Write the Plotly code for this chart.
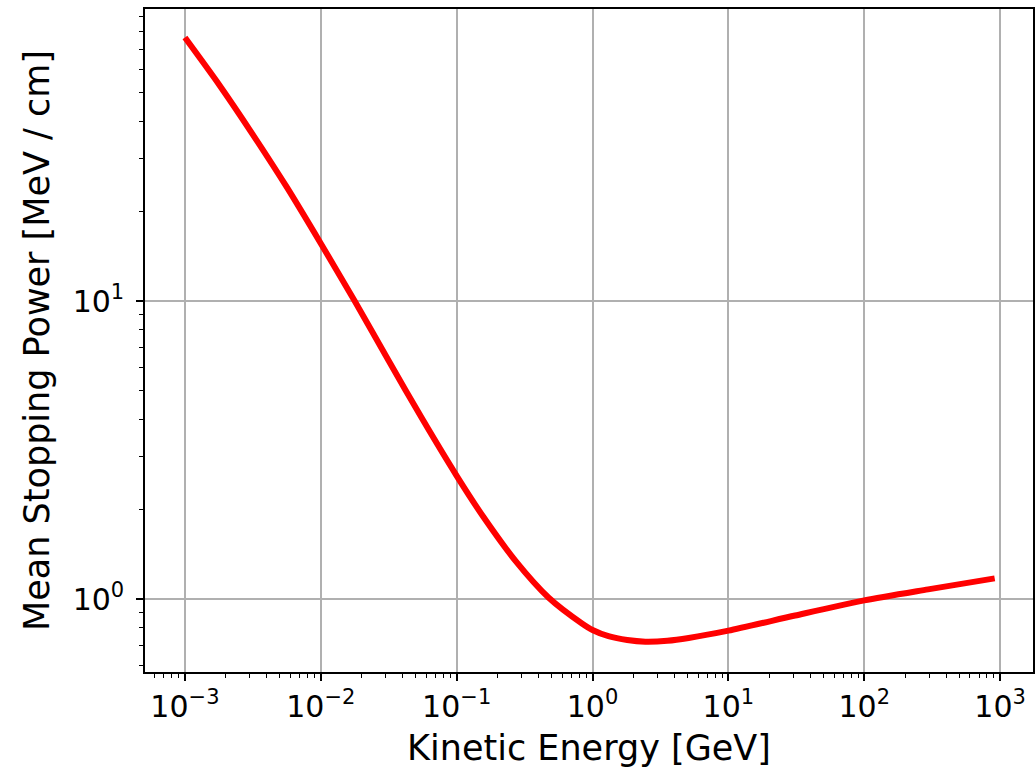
import plotly.graph_objects as go

# Data
kinetic_energy_gev = [0.001, 0.00178, 0.00316, 0.00562, 0.01, 0.0178, 0.0316, 0.0562,
                      0.1, 0.158, 0.272, 0.476, 0.836, 1.0, 1.31, 1.8, 2.45, 3.55, 5.1,
                      10.0, 31.0, 100.0, 295.0, 912.0]
stopping_power = [76.6, 53.3, 36.2, 24.1, 15.6, 9.98, 6.30, 4.00,
                  2.59, 1.88, 1.34, 1.01, 0.828, 0.787, 0.750, 0.728, 0.719, 0.724, 0.740,
                  0.783, 0.880, 0.989, 1.077, 1.173]

x_tick_vals = [1e-3, 1e-2, 1e-1, 1e0, 1e1, 1e2, 1e3]
x_tick_text = ["10<sup>−3</sup>", "10<sup>−2</sup>", "10<sup>−1</sup>", "10<sup>0</sup>",
               "10<sup>1</sup>", "10<sup>2</sup>", "10<sup>3</sup>"]
y_tick_vals = [1e0, 1e1]
y_tick_text = ["10<sup>0</sup>", "10<sup>1</sup>"]

def minor_ticks(lo, hi):
    out = []
    for k in range(lo, hi + 1):
        for m in range(2, 10):
            out.append(m * 10.0 ** k)
    return out

FONT = "DejaVu Sans"

fig = go.Figure()
fig.add_trace(go.Scatter(
    x=kinetic_energy_gev, y=stopping_power, mode="lines",
    line=dict(color="#ff0000", width=6, shape="spline", smoothing=0.7),
    showlegend=False,
))

axis_common = dict(
    type="log",
    showline=True, linecolor="black", linewidth=1.6, mirror=True,
    ticks="outside", ticklen=7, tickwidth=1.5, tickcolor="black",
    showgrid=True, gridcolor="#b0b0b0", gridwidth=1.8,
    zeroline=False,
    tickfont=dict(family=FONT, size=30, color="black"),
)

fig.update_xaxes(
    **axis_common,
    range=[-3.294, 3.242],
    tickmode="array", tickvals=x_tick_vals, ticktext=x_tick_text,
    minor=dict(tickmode="array", tickvals=minor_ticks(-4, 3), ticks="outside",
               ticklen=4, tickwidth=1.2, tickcolor="black", showgrid=False),
    title=dict(text="Kinetic Energy [GeV]", font=dict(family=FONT, size=35, color="black"),
               standoff=17),
)
fig.update_yaxes(
    **axis_common,
    range=[-0.245, 1.980],
    tickmode="array", tickvals=y_tick_vals, ticktext=y_tick_text,
    ticklabelstandoff=6,
    minor=dict(tickmode="array", tickvals=minor_ticks(-1, 1), ticks="outside",
               ticklen=4, tickwidth=1.2, tickcolor="black", showgrid=False),
    title=dict(text="Mean Stopping Power [MeV / cm]", font=dict(family=FONT, size=35, color="black"),
               standoff=12),
)

fig.update_layout(
    width=1036, height=768,
    margin=dict(l=145, r=1, t=9, b=96),
    paper_bgcolor="white", plot_bgcolor="white",
    font=dict(family=FONT, color="black"),
)

fig.write_html("out.html")
